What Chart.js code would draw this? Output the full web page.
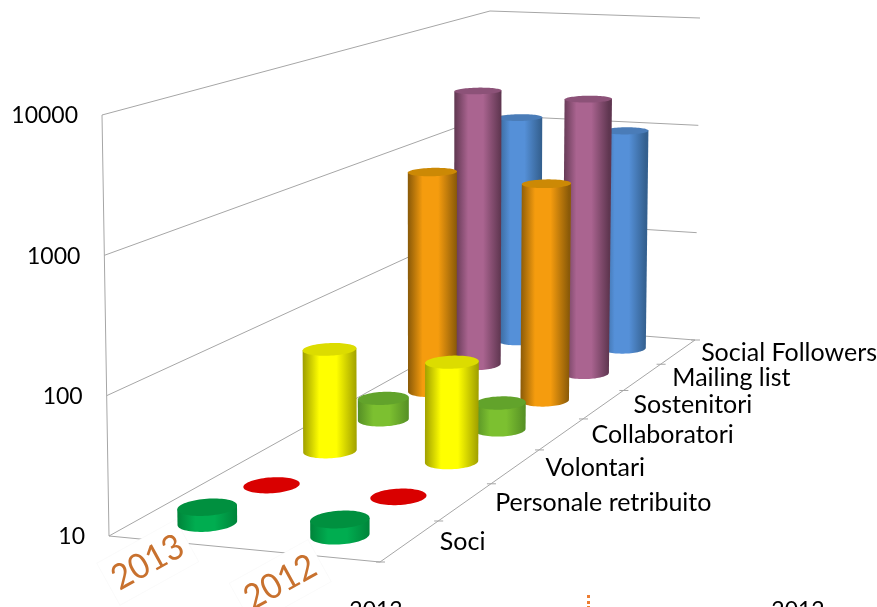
<!DOCTYPE html>
<html>
<head>
<meta charset="utf-8">
<title>Soci e sostenitori</title>
<script src="https://cdn.jsdelivr.net/npm/chart.js@4"></script>
<style>
  html, body { margin: 0; padding: 0; background: #fff; overflow: hidden; }
  canvas { display: block; }
</style>
</head>
<body>
<canvas id="grafico" width="877" height="607"></canvas>
<script>
// dati
const categorie = ['Soci', 'Personale retribuito', 'Volontari', 'Collaboratori', 'Sostenitori', 'Mailing list', 'Social Followers'];
const anni = ['2013', '2012'];
const valori2013 = [13, 10, 64, 15, 775, 2860, 1190];
const valori2012 = [13, 10, 60, 16.5, 695, 2670, 1000];
const tickValori = [10, 100, 1000, 10000];

// colori per categoria: centro, bordo, faccia superiore
const colCentro = ['#00ad50', '#d90000', '#ffff00', '#7cc030', '#f59c0e', '#aa6490', '#5590d8'];
const colBordo = ['#00843a', '#d90000', '#a0a000', '#558f25', '#8a5a08', '#5f3650', '#34608f'];
const colTop = ['#00903f', '#d90000', '#dcdc00', '#62a32b', '#cc8905', '#8c5278', '#4a7cb8'];

// angoli della scatola 3D sulla pagina
const floorBox = [[109, 536], [380, 562], [695, 340], [490, 324]];
const topBox = [[102, 115], [380, 128], [700, 18], [490, 11]];
const FONT = 'Lato, sans-serif';
const GRIGIO = '#a6a6a6';

function quadMap(q) {
  const [[x0, y0], [x1, y1], [x2, y2], [x3, y3]] = q;
  const dx1 = x1 - x2, dx2 = x3 - x2, sx = x0 - x1 + x2 - x3;
  const dy1 = y1 - y2, dy2 = y3 - y2, sy = y0 - y1 + y2 - y3;
  const det = dx1 * dy2 - dx2 * dy1;
  const g = (sx * dy2 - dx2 * sy) / det;
  const h = (dx1 * sy - sx * dy1) / det;
  const a = x1 - x0 + g * x1, b = x3 - x0 + h * x3;
  const d = y1 - y0 + g * y1, e = y3 - y0 + h * y3;
  return (u, v) => {
    const k = g * u + h * v + 1;
    return [(a * u + b * v + x0) / k, (d * u + e * v + y0) / k];
  };
}
const floorMap = quadMap(floorBox);
const topMap = quadMap(topBox);

// u = anno, v = profondita, w = altezza (0-1)
function proj(u, v, w) {
  const p = floorMap(u, v), t = topMap(u, v);
  return [p[0] + (t[0] - p[0]) * w, p[1] + (t[1] - p[1]) * w];
}

function linea(ctx, a, b) {
  ctx.beginPath();
  ctx.moveTo(a[0], a[1]);
  ctx.lineTo(b[0], b[1]);
  ctx.stroke();
}

function anello(u, v, ru, rv, w) {
  const pts = [];
  for (let i = 0; i < 72; i++) {
    const t = i / 72 * Math.PI * 2;
    pts.push(proj(u + Math.cos(t) * ru, v + Math.sin(t) * rv, w));
  }
  return pts;
}

function poly(ctx, pts) {
  ctx.beginPath();
  pts.forEach((p, i) => i ? ctx.lineTo(p[0], p[1]) : ctx.moveTo(p[0], p[1]));
  ctx.closePath();
}

function cilindro(ctx, u, v, ru, rv, w, c) {
  const base = anello(u, v, ru, rv, 0);
  const cima = anello(u, v, ru, rv, w);
  if (w > 0.001) {
    let iL = 0, iR = 0;
    base.forEach((p, i) => {
      if (p[0] < base[iL][0]) iL = i;
      if (p[0] > base[iR][0]) iR = i;
    });
    // arco davanti della base, da sinistra a destra
    const arco = [];
    for (let i = iL; ; i = (i + 1) % 72) {
      arco.push(base[i]);
      if (i === iR) break;
    }
    const grad = ctx.createLinearGradient(base[iL][0], 0, base[iR][0], 0);
    grad.addColorStop(0, colBordo[c]);
    grad.addColorStop(0.3, colCentro[c]);
    grad.addColorStop(0.62, colCentro[c]);
    grad.addColorStop(1, colBordo[c]);
    ctx.fillStyle = grad;
    poly(ctx, arco.concat([cima[iR], cima[iL]]));
    ctx.fill();
  }
  ctx.fillStyle = colTop[c];
  poly(ctx, cima);
  ctx.fill();
}

const scena3d = {
  id: 'scena3d',
  beforeDatasetsDraw(chart) {
    const ctx = chart.ctx;
    const x = chart.scales.x, y = chart.scales.y;
    const area = chart.chartArea;
    const altezza = val => (area.bottom - y.getPixelForValue(val)) / (area.bottom - area.top);
    const prof = i => (x.getPixelForValue(i) - area.left) / (area.right - area.left);

    ctx.save();
    ctx.strokeStyle = GRIGIO;
    ctx.lineWidth = 1;

    // griglie su parete sinistra e di fondo
    y.ticks.forEach(t => {
      const w = altezza(t.value);
      linea(ctx, proj(0, 0, w), proj(0, 1, w));
      linea(ctx, proj(0, 1, w), proj(1, 1, w));
    });
    linea(ctx, proj(0, 0, 0), proj(0, 0, 1));
    linea(ctx, proj(0, 0, 0), proj(1, 0, 0));
    linea(ctx, proj(1, 0, 0), proj(1, 1, 0));

    // tacche sul bordo destro
    for (let i = 0; i <= categorie.length; i++) {
      const p = proj(1, i / categorie.length, 0);
      linea(ctx, [p[0] - 4, p[1]], [p[0] + 5, p[1]]);
    }

    // etichette asse verticale
    ctx.fillStyle = '#000';
    ctx.font = '23px ' + FONT;
    ctx.textAlign = 'right';
    ctx.textBaseline = 'middle';
    y.ticks.forEach(t => {
      const p = proj(0, 0, altezza(t.value));
      ctx.fillText(t.label, p[0] - 24, p[1] + 1);
    });

    // etichette categorie
    ctx.font = '25px ' + FONT;
    ctx.textAlign = 'left';
    categorie.forEach((nome, i) => {
      const p = proj(1, prof(i), 0);
      ctx.fillText(nome, p[0] + (i === 6 ? 23 : 30), p[1] + 1);
    });

    // etichette anni
    const offs = [[-28, 20], [-31, 27]];
    anni.forEach((a, k) => {
      const p = proj((k + 0.5) / 2, 0, 0);
      ctx.save();
      ctx.translate(p[0] + offs[k][0], p[1] + offs[k][1]);
      ctx.rotate(-29 * Math.PI / 180);
      ctx.fillStyle = '#fff';
      ctx.fillRect(-45, -24, 90, 48);
      ctx.strokeStyle = 'rgba(0,0,0,0.02)';
      ctx.strokeRect(-45, -24, 90, 48);
      ctx.fillStyle = '#c8712e';
      ctx.font = '35px ' + FONT;
      ctx.textAlign = 'center';
      ctx.scale(0.95, 1);
      ctx.fillText(a, 0, 0);
      ctx.restore();
    });

    // cilindri, dal fondo verso davanti
    for (let i = categorie.length - 1; i >= 0; i--) {
      chart.data.datasets.forEach((ds, k) => {
        const u = (k + 0.5) / chart.data.datasets.length - 0.005;
        cilindro(ctx, u, prof(i) - 0.003, 0.099, 0.031, altezza(ds.data[i]), i);
      });
    }

    // resti della pagina tagliati in basso
    ctx.fillStyle = '#000';
    ctx.font = '23px ' + FONT;
    ctx.textAlign = 'center';
    ctx.textBaseline = 'alphabetic';
    ctx.fillText(anni[0], 376, 618);
    ctx.fillText(anni[1], 798, 618);
    ctx.fillStyle = '#ed7d31';
    [595, 601, 606].forEach(py => ctx.fillRect(587, py, 3, 3));
    ctx.restore();
    return false;
  }
};

new Chart(document.getElementById('grafico'), {
  type: 'bar',
  data: {
    labels: categorie,
    datasets: [
      { label: anni[0], data: valori2013 },
      { label: anni[1], data: valori2012 }
    ]
  },
  options: {
    responsive: false,
    animation: false,
    layout: { padding: { top: 115, bottom: 71, left: 0, right: 100 } },
    plugins: { legend: { display: false }, tooltip: { enabled: false }, title: { display: false } },
    scales: {
      x: { display: false },
      y: {
        type: 'logarithmic',
        min: 10,
        max: 10000,
        afterBuildTicks: s => { s.ticks = tickValori.map(v => ({ value: v })); },
        afterFit: s => { s.width = 102; },
        grid: { display: false },
        border: { display: false },
        ticks: { color: 'rgba(0,0,0,0)', callback: v => String(v) }
      }
    }
  },
  plugins: [scena3d]
});
</script>
</body>
</html>
